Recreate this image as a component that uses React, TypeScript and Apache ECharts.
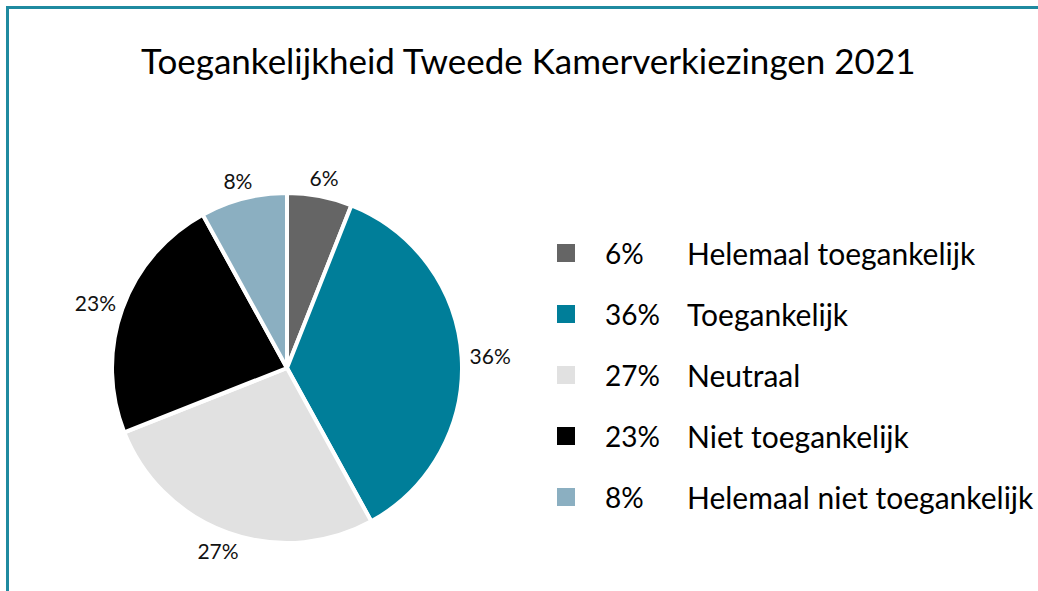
import React, { useEffect, useRef } from "react";
import * as echarts from "echarts";

const title = "Toegankelijkheid Tweede Kamerverkiezingen 2021";
const categories = [
  "Helemaal toegankelijk",
  "Toegankelijk",
  "Neutraal",
  "Niet toegankelijk",
  "Helemaal niet toegankelijk",
];
const values = [6, 36, 27, 23, 8];
const colors = ["#656565", "#007E99", "#E1E1E1", "#000000", "#8BAFC1"];

const CX = 287;
const CY = 368;
const R = 175;

export default function App() {
  const ref = useRef<HTMLDivElement>(null);
  useEffect(() => {
    if (!ref.current) return;
    const chart = echarts.init(ref.current, undefined, { renderer: "svg" });
    const font = "Lato";
    const total = values.reduce((a, b) => a + b, 0);
    const midAngles: number[] = [];
    let acc = 0;
    values.forEach((v) => {
      midAngles.push(((acc + v / 2) / total) * Math.PI * 2);
      acc += v;
    });
    chart.setOption({
      animation: false,
      backgroundColor: "#ffffff",
      title: {
        text: title,
        left: 141,
        top: 42,
        padding: 0,
        textStyle: { fontFamily: font, fontSize: 35, fontWeight: "normal", color: "#000" },
      },
      legend: {
        orient: "vertical",
        left: 555,
        top: 238,
        padding: 0,
        itemWidth: 20,
        itemHeight: 20,
        itemGap: 31,
        icon: "rect",
        data: categories,
        formatter: (name: string) => {
          const i = categories.indexOf(name);
          return `{g|}{p|${values[i]}%}{n|${name}}`;
        },
        textStyle: {
          fontFamily: font,
          fontSize: 28,
          color: "#000",
          rich: {
            g: { width: 24, fontFamily: font, fontSize: 28, lineHeight: 34 },
            p: { width: 82, fontFamily: font, fontSize: 28, lineHeight: 34, color: "#000" },
            n: { fontFamily: font, fontSize: 30, lineHeight: 34, color: "#000" },
          },
        },
      },
      graphic: [
        { type: "line", shape: { x1: 6, y1: 7.5, x2: 1038, y2: 7.5 }, style: { stroke: "#1F8AA0", lineWidth: 3 } },
        { type: "line", shape: { x1: 7.5, y1: 6, x2: 7.5, y2: 591 }, style: { stroke: "#1F8AA0", lineWidth: 3 } },
      ],
      series: [
        {
          type: "pie",
          center: [CX, CY],
          radius: R,
          startAngle: 90,
          clockwise: true,
          data: categories.map((c, i) => ({ name: c, value: values[i], itemStyle: { color: colors[i] } })),
          itemStyle: { borderColor: "#fff", borderWidth: 4 },
          label: {
            show: true,
            position: "outside",
            formatter: "{c}%",
            fontFamily: font,
            fontSize: 21,
            color: "#111",
          },
          labelLine: { show: false, length: 6, length2: 0 },
          labelLayout: (params: any) => {
            const th = midAngles[params.dataIndex];
            const w = params.labelRect.width;
            const h = params.labelRect.height;
            const d = 8;
            const px = CX + (R + d) * Math.sin(th);
            const py = CY - (R + d) * Math.cos(th);
            return {
              x: px + (w / 2) * Math.sin(th),
              y: py - (h / 2) * Math.cos(th),
              align: "center",
              verticalAlign: "middle",
            };
          },
          emphasis: { disabled: true },
        },
      ],
    });
    return () => chart.dispose();
  }, []);
  return (
    <div
      ref={ref}
      style={{ position: "fixed", left: 0, top: 0, width: 1038, height: 591 }}
    />
  );
}
